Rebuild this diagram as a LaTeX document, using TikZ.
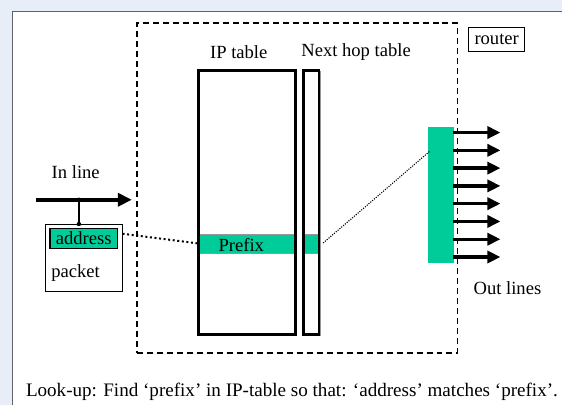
\documentclass[tikz,border=0pt]{standalone}
\usepackage{fontspec}
\setmainfont{Liberation Serif}
\usetikzlibrary{arrows.meta,calc}
\definecolor{bgblue}{RGB}{231,238,248}
\definecolor{framegray}{RGB}{96,96,104}
\definecolor{mint}{RGB}{0,204,153}
\definecolor{edgegray}{RGB}{150,150,150}
\begin{document}
\begin{tikzpicture}[x=1pt,y=-1pt,
  font=\fontsize{18.6}{20}\selectfont,
  lbl/.style={inner sep=0pt, anchor=center},
  box/.style={anchor=north west, inner sep=0pt, outer sep=0pt},
  tablebox/.style={box, draw, line width=2.6pt},
  tableshade/.style={box, draw=edgegray, line width=1pt},
  band/.style={box, fill=mint, draw=edgegray, line width=0.7pt},
  outarrow/.style={line width=3.3pt, -{Triangle[length=13pt,width=12pt]}},
  inarrow/.style={line width=4pt, -{Triangle[length=14pt,width=13pt]}},
  dotline/.style={line width=2pt, dash pattern=on 2pt off 2.6pt},
  finedot/.style={line width=1.1pt, dash pattern=on 1.1pt off 1.3pt},
  joint/.style={circle, fill, inner sep=0pt, minimum size=4.4pt}
]
% page background and white panel
\fill[bgblue] (0,0) rectangle (563,405);
\fill[white] (12.7,11.7) rectangle (563,405);
\draw[framegray, line width=1.3pt] (12.7,405) -- (12.7,11.7) -- (563,11.7);
\useasboundingbox (0,0) rectangle (563,405);

% router boundary
\node[box, draw, dash pattern=on 6pt off 4pt, line width=1.7pt,
      minimum width=321pt, minimum height=330pt] (router) at (137,23.3) {};
\node[box, draw, line width=0.9pt, minimum width=56.5pt, minimum height=24pt] (rlabelbox) at (469,27.7) {};
\node[lbl] (rlabel) at (rlabelbox.center) {router};

% tables
\node[lbl] (iptitle) at (239,52.3) {IP table};
\node[lbl] (nhtitle) at (356.5,52.3) {Next hop table};
\node[tableshade, minimum width=97pt, minimum height=264.5pt] at (200.2,71.7) {};
\node[tableshade, minimum width=15.3pt, minimum height=264.5pt] at (305.2,71.7) {};
\node[band, minimum width=97pt, minimum height=19pt] (prefix) at (199,234.3) {};
\node[band, minimum width=15.3pt, minimum height=19pt] (nhband) at (304,234.3) {};
\node[tablebox, minimum width=97pt, minimum height=264.5pt] (ipt) at (199,70.5) {};
\node[tablebox, minimum width=15.3pt, minimum height=264.5pt] (nht) at (304,70.5) {};
\node[lbl] (prefixtext) at (241.6,245) {Prefix};

% output interface
\node[box, fill=mint, minimum width=26pt, minimum height=135.8pt] (bar) at (428.3,127.5) {};
\foreach \k in {0,...,7}{
  \coordinate (o\k) at (501,{132.7+17.8*\k});
  \draw[outarrow] ([xshift=-1pt]bar.east |- o\k) -- (o\k);
}
\node[lbl] (outlines) at (508,288.3) {Out lines};

% incoming line and packet
\node[lbl] (inline) at (75.8,172) {In line};
\coordinate (inS) at (36,200);
\coordinate (inE) at (132,200);
\draw[inarrow] (inS) -- (inE);
\node[box, draw, line width=1pt, minimum width=77.4pt, minimum height=67pt] (pkt) at (45.3,224.7) {};
\node[box, draw, fill=mint, line width=1.3pt, minimum width=67.7pt, minimum height=20pt] (addr) at (50,228.7) {};
\node[lbl] (addrtext) at (addr.center) {address};
\node[lbl] (pkttext) at (75.7,273.3) {packet};
\node[joint] (j1) at (79,200) {};
\node[joint] (j2) at (79,224.3) {};
\draw[line width=1.6pt] (j1.center) -- (j2.center);

% look-up links
\coordinate (pktout) at (122.7,234);
\draw[dotline] (pktout) -- (prefix.west);
\coordinate (nhout) at (323.5,243.3);
\coordinate (barin) at (430,151.7);
\draw[finedot] (nhout) -- (barin);

% caption
\node[lbl, font=\fontsize{19.1}{21}\selectfont] (caption) at (292.3,392) {Look-up: Find ‘prefix’ in IP-table so that: ‘address’ matches ‘prefix’.};
\end{tikzpicture}
\end{document}
